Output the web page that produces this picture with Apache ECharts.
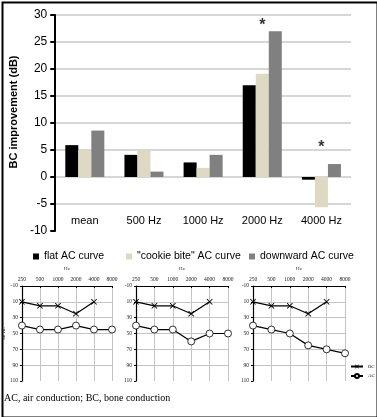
<!DOCTYPE html>
<html>
<head>
<meta charset="utf-8">
<script src="https://cdn.jsdelivr.net/npm/echarts@6/dist/echarts.min.js"></script>
<style>
  html, body { margin: 0; padding: 0; background: #fff; }
  #chart { width: 377px; height: 417px; }
</style>
</head>
<body>
<div id="chart"></div>
<script>
// bar chart data
const categories = ['mean', '500 Hz', '1000 Hz', '2000 Hz', '4000 Hz'];
const flatAC = [5.9, 4.1, 2.7, 17.0, -0.5];
const cookieBite = [5.0, 5.0, 1.7, 19.1, -5.6];
const downward = [8.6, 1.0, 4.1, 27.0, 2.4];
// asterisks (significance marks)
const sigCats = ['2000 Hz', '4000 Hz'];
const sigY = [28, 5.4];

// audiogram data
const freqs = ['250', '500', '1000', '2000', '4000', '8000'];
const bcFlat = [10, 15, 15, 25, 10, null];
const acFlat = [40, 45, 45, 40, 45, 45];
const bcCookie = [10, 15, 15, 25, 10, null];
const acCookie = [40, 45, 45, 60, 50, 50];
const bcDown = [10, 15, 15, 25, 10, null];
const acDown = [40, 45, 50, 65, 70, 75];

const crossPath = 'path://M0,1L1,0L5,4L9,0L10,1L6,5L10,9L9,10L5,6L1,10L0,9L4,5Z';
const sans = 'Liberation Sans';
const serif = 'Liberation Serif';

let myChart = echarts.init(document.getElementById('chart'));

const smallLefts = [20, 136, 253];
const smallSets = [[bcFlat, acFlat], [bcCookie, acCookie], [bcDown, acDown]];

let grids = [{ left: 41, top: 15, width: 310, height: 216 }];
let xAxes = [{
  type: 'category',
  gridIndex: 0,
  data: categories,
  axisLine: { show: false, onZero: false },
  axisTick: { show: false },
  axisLabel: { inside: true, margin: 5, fontSize: 11, color: '#000', fontFamily: sans }
}];
let yAxes = [{
  type: 'value',
  gridIndex: 0,
  min: -10, max: 30, interval: 5,
  name: 'BC improvement (dB)',
  nameLocation: 'middle',
  nameGap: 33,
  nameTextStyle: { fontSize: 11, fontWeight: 'bold', color: '#000', fontFamily: sans, padding: [0, 0, 0, 22] },
  axisLine: { show: true, lineStyle: { color: '#000', width: 2 } },
  axisTick: { show: true, length: 5, lineStyle: { color: '#000', width: 2 } },
  axisLabel: { fontSize: 12, color: '#000', margin: 8, fontFamily: sans },
  splitLine: { show: true, showMinLine: false, lineStyle: { color: '#c8c8c8', width: 1.5 } }
}];

let series = [
  { name: 'flat AC curve', type: 'bar', xAxisIndex: 0, yAxisIndex: 0, data: flatAC,
    itemStyle: { color: '#000000' }, barGap: '0%', barCategoryGap: '34%' },
  { name: '"cookie bite" AC curve', type: 'bar', xAxisIndex: 0, yAxisIndex: 0, data: cookieBite,
    itemStyle: { color: '#ddd9c3' }, barGap: '0%', barCategoryGap: '34%' },
  { name: 'downward AC curve', type: 'bar', xAxisIndex: 0, yAxisIndex: 0, data: downward,
    itemStyle: { color: '#808080' }, barGap: '0%', barCategoryGap: '34%' },
  { name: 'sig', type: 'scatter', xAxisIndex: 0, yAxisIndex: 0, silent: true,
    data: sigCats.map((c, i) => [c, sigY[i]]),
    symbol: 'circle', symbolSize: 1, itemStyle: { color: 'transparent' },
    label: { show: true, position: 'inside', formatter: '*', fontSize: 16, fontWeight: 'bold', color: '#000', fontFamily: sans } }
];

smallLefts.forEach((left, k) => {
  const gi = k + 1;
  grids.push({ left: left, top: 286, width: 92, height: 95 });
  xAxes.push({
    type: 'category',
    gridIndex: gi,
    position: 'top',
    boundaryGap: false,
    data: freqs,
    name: 'Hz',
    nameLocation: 'middle',
    nameGap: 15,
    nameTextStyle: { fontSize: 5, color: '#222', fontFamily: serif },
    axisLine: { show: true, onZero: false, lineStyle: { color: '#000', width: 1.2 } },
    axisTick: { show: true, inside: true, length: 2, lineStyle: { color: '#000' } },
    axisLabel: { fontSize: 5.5, color: '#222', margin: 3, fontFamily: serif },
    splitLine: { show: true, lineStyle: { color: '#c4c4c4', width: 1 } }
  });
  yAxes.push({
    type: 'value',
    gridIndex: gi,
    inverse: true,
    min: -10, max: 110, interval: 20,
    name: gi === 1 ? 'dB HL' : '',
    nameLocation: 'middle',
    nameGap: 15,
    nameTextStyle: { fontSize: 4.5, color: '#222', fontFamily: serif },
    axisLine: { show: true, onZero: false, lineStyle: { color: '#000', width: 1.2 } },
    axisTick: { show: true, length: 2, lineStyle: { color: '#000' } },
    axisLabel: { fontSize: 5.5, color: '#222', margin: 4, fontFamily: serif },
    splitLine: { show: true, showMaxLine: false, lineStyle: { color: '#c4c4c4', width: 1 } }
  });
  series.push({
    name: 'BC', type: 'line', xAxisIndex: gi, yAxisIndex: gi, data: smallSets[k][0],
    symbol: crossPath, symbolSize: 6, color: '#000',
    lineStyle: { color: '#000', width: 1.2 },
    itemStyle: { color: '#000' }
  });
  series.push({
    name: 'AC', type: 'line', xAxisIndex: gi, yAxisIndex: gi, data: smallSets[k][1],
    symbol: 'circle', symbolSize: 7, color: '#000',
    lineStyle: { color: '#000', width: 1.2 },
    itemStyle: { color: '#fff', borderColor: '#000', borderWidth: 0.8 }
  });
});

const legendText = { fontSize: 10.5, color: '#000', fontFamily: sans };
myChart.setOption({
  animation: false,
  backgroundColor: '#fff',
  grid: grids,
  xAxis: xAxes,
  yAxis: yAxes,
  legend: [
    { data: ['flat AC curve'], left: 33, top: 251, icon: 'rect', itemWidth: 6, itemHeight: 6, textStyle: legendText, selectedMode: false, padding: 0 },
    { data: ['"cookie bite" AC curve'], left: 126, top: 251, icon: 'rect', itemWidth: 6, itemHeight: 6, textStyle: legendText, selectedMode: false, padding: 0 },
    { data: ['downward AC curve'], left: 249, top: 251, icon: 'rect', itemWidth: 6, itemHeight: 6, textStyle: legendText, selectedMode: false, padding: 0 },
    { data: ['BC', 'AC'], orient: 'vertical', left: 350, top: 364, itemWidth: 12, itemHeight: 5, itemGap: 4,
      textStyle: { fontSize: 5, color: '#222', fontFamily: serif }, selectedMode: false, padding: 0 }
  ],
  graphic: [
    { type: 'text', left: 4, top: 393,
      style: { text: 'AC, air conduction; BC, bone conduction', fontSize: 10, fontFamily: serif, fill: '#000' } },
    { type: 'rect', left: 0, top: 0, shape: { x: 1, y: 1, width: 375, height: 415 },
      style: { fill: 'none', stroke: '#000', lineWidth: 2 }, silent: true }
  ],
  series: series
});
</script>
</body>
</html>
